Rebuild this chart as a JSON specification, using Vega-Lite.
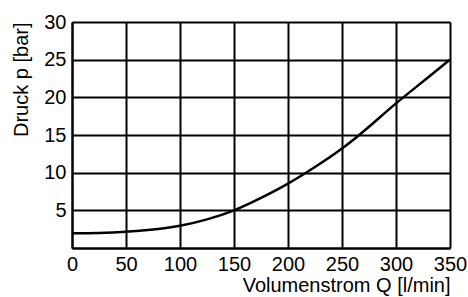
{
  "$schema": "https://vega.github.io/schema/vega-lite/v6.json",
  "width": 378,
  "height": 226,
  "autosize": {"type": "none"},
  "padding": {"left": 72, "top": 22, "right": 18, "bottom": 49},
  "background": "white",
  "config": {
    "view": {"stroke": null},
    "font": "Liberation Sans",
    "axis": {
      "grid": true,
      "gridColor": "black",
      "gridWidth": 2,
      "gridOpacity": 1,
      "domainColor": "black",
      "domainWidth": 2,
      "ticks": false,
      "labelFont": "Liberation Sans",
      "labelFontSize": 20,
      "labelColor": "black",
      "titleFont": "Liberation Sans",
      "titleFontSize": 20,
      "titleFontWeight": "normal",
      "titleColor": "black"
    }
  },
  "data": {
    "values": [
      {"Q": 0, "p": 1.95},
      {"Q": 25, "p": 2.0},
      {"Q": 50, "p": 2.15},
      {"Q": 75, "p": 2.45},
      {"Q": 100, "p": 2.95},
      {"Q": 125, "p": 3.8},
      {"Q": 150, "p": 5.0},
      {"Q": 175, "p": 6.65},
      {"Q": 200, "p": 8.55},
      {"Q": 225, "p": 10.75},
      {"Q": 250, "p": 13.2},
      {"Q": 275, "p": 16.1},
      {"Q": 300, "p": 19.2},
      {"Q": 325, "p": 22.1},
      {"Q": 350, "p": 25.0}
    ]
  },
  "mark": {"type": "line", "color": "black", "strokeWidth": 2.5, "interpolate": "natural", "clip": true},
  "encoding": {
    "x": {
      "field": "Q",
      "type": "quantitative",
      "scale": {"domain": [0, 350], "nice": false, "zero": false},
      "axis": {
        "values": [0, 50, 100, 150, 200, 250, 300, 350],
        "title": "Volumenstrom Q [l/min]",
        "titleAnchor": "end",
        "titlePadding": 1,
        "labelPadding": 6,
        "labelFlush": false,
        "labelOverlap": false
      }
    },
    "y": {
      "field": "p",
      "type": "quantitative",
      "scale": {"domain": [0, 30], "nice": false, "zero": false},
      "axis": {
        "values": [0, 5, 10, 15, 20, 25, 30],
        "labelExpr": "datum.value == 0 ? '' : datum.label",
        "title": "Druck p [bar]",
        "titleAnchor": "end",
        "titlePadding": 12,
        "labelPadding": 6,
        "labelFlush": false,
        "labelOverlap": false
      }
    }
  }
}
